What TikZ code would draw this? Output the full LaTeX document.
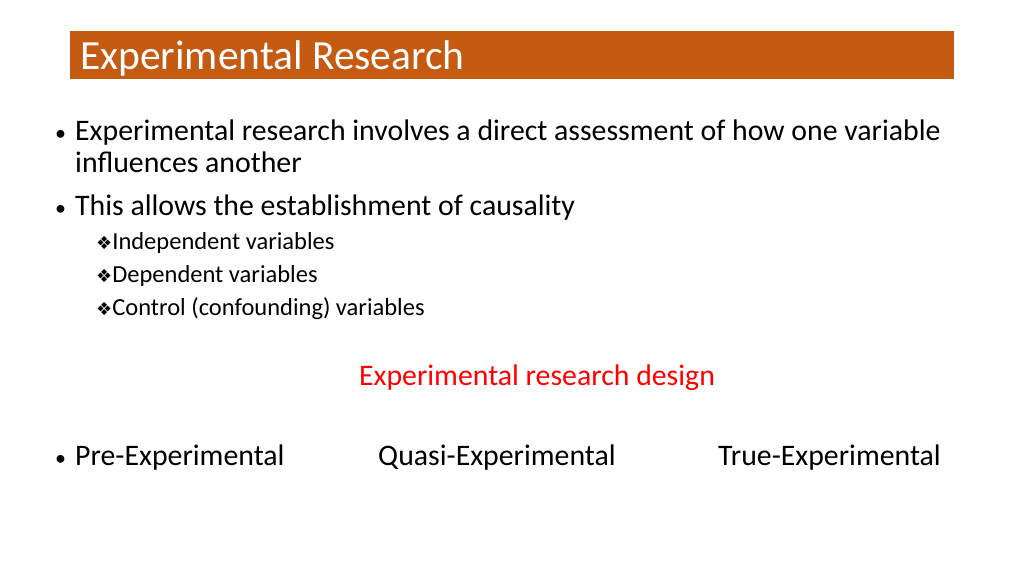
\documentclass[tikz,border=0pt]{standalone}
\usepackage{fontspec}
\setmainfont{Carlito}
\newfontfamily\symf{DejaVu Sans}
\definecolor{barc}{HTML}{C55A11}
\definecolor{redt}{HTML}{FF0000}
\begin{document}
\begin{tikzpicture}[x=1pt,y=-1pt,
  body/.style={anchor=base west,inner sep=0pt,font=\fontsize{29.8}{34}\selectfont},
  bul/.style={anchor=base west,inner sep=0pt,font=\fontsize{22}{26}\selectfont},
  sub/.style={anchor=base west,inner sep=0pt,font=\fontsize{24.5}{28}\selectfont}]
\useasboundingbox (0,0) rectangle (1024,576);
\fill[barc] (70,31) rectangle (954,79);
\node[anchor=base west,inner sep=0pt,text=white,font=\fontsize{41.5}{46}\selectfont] (title) at (80,69) {Experimental Research};
\node[bul] (b1m) at (55,140) {•};
\node[body] (b1) at (75,140) {Experimental research involves a direct assessment of how one variable};
\node[body] (b1b) at (75,172) {influences another};
\node[bul] (b2m) at (55,215) {•};
\node[body] (b2) at (75,215) {This allows the establishment of causality};
\node[sub] (s1) at (96,249) {{\symf\fontsize{18}{20}\selectfont ❖}Independent variables};
\node[sub] (s2) at (96,282) {{\symf\fontsize{18}{20}\selectfont ❖}Dependent variables};
\node[sub] (s3) at (96,315) {{\symf\fontsize{18}{20}\selectfont ❖}Control (confounding) variables};
\node[anchor=base,inner sep=0pt,text=redt,font=\fontsize{29.8}{34}\selectfont] (design) at (537,385) {Experimental research design};
\node[bul] (b3m) at (55,465) {•};
\node[body] (pre) at (75,465) {Pre-Experimental};
\node[body] (quasi) at (378,465) {Quasi-Experimental};
\node[body] (true) at (718,465) {True-Experimental};
\end{tikzpicture}
\end{document}
